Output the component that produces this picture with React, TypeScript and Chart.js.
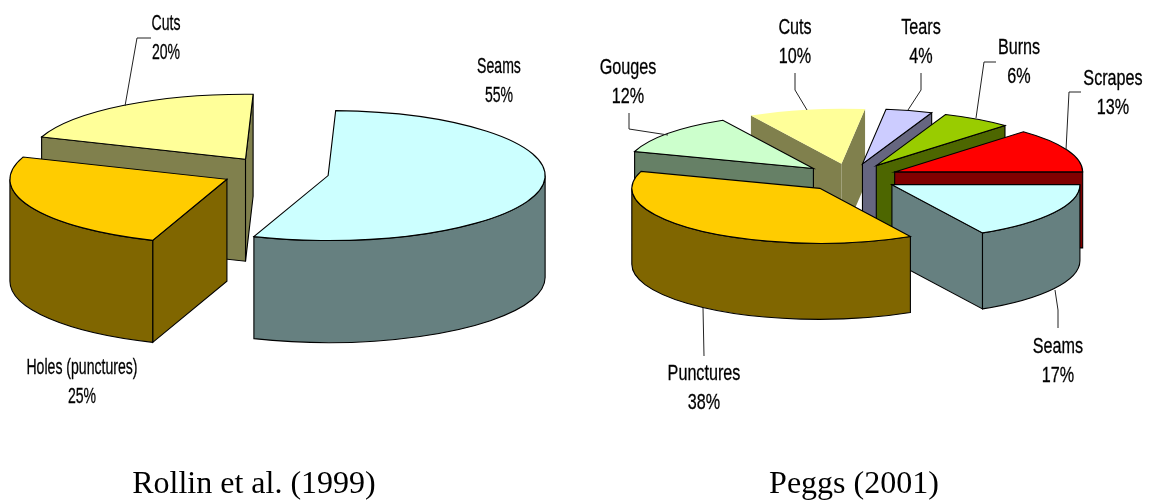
import React, { useEffect, useRef } from "react";
import { Chart, registerables } from "chart.js";

Chart.register(...registerables);

// ---- Rollin et al. (1999)
const leftCategories = ["Seams", "Holes (punctures)", "Cuts"];
const leftValues = [55, 25, 20];
const leftTopColors = ["#CCFFFF", "#FFCC00", "#FFFF99"];
const leftSideColors = ["#668080", "#806600", "#80804D"];
const leftBorders = ["#000", "#000", "#000"];
const leftPaintOrder = [0, 2, 1];
const leftCaption = "Rollin et al. (1999)";

// ---- Peggs (2001)
const rightCategories = ["Seams", "Punctures", "Gouges", "Cuts", "Tears", "Burns", "Scrapes"];
const rightValues = [17, 38, 12, 10, 4, 6, 13];
const rightTopColors = ["#CCFFFF", "#FFCC00", "#CCFFCC", "#FFFF99", "#CCCCFF", "#99CC00", "#FF0000"];
const rightSideColors = ["#668080", "#806600", "#668066", "#80804D", "#666680", "#4D6600", "#800000"];
const rightBorders = ["#000", "#000", "#000", "transparent", "#000", "#000", "#000"];
const rightPaintOrder = [3, 4, 5, 6, 0, 2, 1];
const rightCaption = "Peggs (2001)";

type LabelSpot = { x: number; y: number; leader?: number[][] };

const leftLabelSpots: LabelSpot[] = [
  { x: 499, y: 67 },
  { x: 82, y: 368 },
  { x: 166, y: 24, leader: [[125, 106], [137, 38], [151, 38]] },
];
const rightLabelSpots: LabelSpot[] = [
  { x: 484, y: 347, leader: [[481, 290], [484, 310], [484, 328]] },
  { x: 130, y: 374, leader: [[129, 308], [130, 356]] },
  { x: 54, y: 68, leader: [[55, 113], [55, 129], [94, 135]] },
  { x: 221, y: 28, leader: [[221, 73], [221, 90], [233, 110]] },
  { x: 347, y: 28, leader: [[347, 73], [347, 90], [334, 110]] },
  { x: 445, y: 48, leader: [[422, 62], [410, 62], [402, 118]] },
  { x: 539, y: 79, leader: [[507, 92], [495, 92], [492, 150]] },
];

const pie3d = {
  id: "pie3d",
  beforeDatasetsDraw(chart: any, _args: any, o: any) {
    const ctx = chart.ctx;
    const meta = chart.getDatasetMeta(0);
    for (const idx of o.order) {
      const arc = meta.data[idx];
      const { x, y, startAngle: a0, endAngle: a1, outerRadius: R } = arc;
      const half = (a0 + a1) / 2;
      const ax = x + Math.cos(half) * o.explode * o.sx;
      const ay = y + Math.sin(half) * o.explode * o.sy;
      const rx = R * o.sx;
      const ry = R * o.sy;
      const d = o.depth;
      const stroke = arc.options.borderColor;
      const side = o.sides[idx];
      const paint = () => {
        ctx.fillStyle = side;
        ctx.fill();
        if (stroke !== "transparent") {
          ctx.strokeStyle = stroke;
          ctx.lineWidth = o.line;
          ctx.stroke();
        }
      };
      const radial = (a: number) => {
        const px = ax + rx * Math.cos(a);
        const py = ay + ry * Math.sin(a);
        ctx.beginPath();
        ctx.moveTo(ax, ay);
        ctx.lineTo(px, py);
        ctx.lineTo(px, py + d);
        ctx.lineTo(ax, ay + d);
        ctx.closePath();
        paint();
      };
      if (-Math.cos(a0) > 0) radial(a0);
      if (Math.cos(a1) > 0) radial(a1);
      // outer curved wall: the part of the rim that faces the viewer
      for (let k = -1; k <= 1; k++) {
        const s = Math.max(a0, 2 * Math.PI * k);
        const e = Math.min(a1, Math.PI + 2 * Math.PI * k);
        if (e > s) {
          ctx.beginPath();
          ctx.ellipse(ax, ay, rx, ry, 0, s, e);
          ctx.ellipse(ax, ay + d, rx, ry, 0, e, s, true);
          ctx.closePath();
          paint();
        }
      }
      // the library's own arc is the top face
      ctx.save();
      ctx.translate(ax, ay);
      ctx.scale(o.sx, o.sy);
      ctx.translate(-x, -y);
      arc.draw(ctx);
      ctx.restore();
      if (stroke !== "transparent") {
        ctx.beginPath();
        ctx.moveTo(ax, ay);
        ctx.ellipse(ax, ay, rx, ry, 0, a0, a1);
        ctx.closePath();
        ctx.strokeStyle = stroke;
        ctx.lineWidth = o.line;
        ctx.stroke();
      }
    }
    return false;
  },
  afterDraw(chart: any, _args: any, o: any) {
    const ctx = chart.ctx;
    const labels = chart.data.labels;
    const values = chart.data.datasets[0].data;
    o.spots.forEach((spot: LabelSpot, i: number) => {
      if (spot.leader) {
        ctx.beginPath();
        spot.leader.forEach((p: number[], j: number) => (j ? ctx.lineTo(p[0], p[1]) : ctx.moveTo(p[0], p[1])));
        ctx.strokeStyle = "#222";
        ctx.lineWidth = 1;
        ctx.stroke();
      }
      ctx.save();
      ctx.translate(spot.x, spot.y);
      ctx.scale(o.squeeze, 1);
      ctx.font = `${o.font}px "Liberation Sans"`;
      ctx.fillStyle = "#000";
      ctx.strokeStyle = "#000";
      ctx.lineWidth = 0.3;
      ctx.textAlign = "center";
      ctx.textBaseline = "middle";
      ctx.fillText(labels[i], 0, 0);
      ctx.strokeText(labels[i], 0, 0);
      ctx.fillText(`${values[i]}%`, 0, o.gap);
      ctx.strokeText(`${values[i]}%`, 0, o.gap);
      ctx.restore();
    });
    ctx.save();
    ctx.font = `32px "Liberation Serif"`;
    ctx.fillStyle = "#000";
    ctx.textAlign = "center";
    ctx.textBaseline = "alphabetic";
    ctx.fillText(o.caption, o.captionX, o.captionY);
    ctx.restore();
  },
};

function usePie(
  ref: React.RefObject<HTMLCanvasElement | null>,
  cfg: {
    labels: string[]; values: number[]; tops: string[]; sides: string[]; borders: string[];
    order: number[]; spots: LabelSpot[]; caption: string; captionX: number; rotation: number; padding: any;
    sx: number; sy: number; explode: number; depth: number; font: number; gap: number; squeeze: number;
  }
) {
  useEffect(() => {
    const chart = new Chart(ref.current as HTMLCanvasElement, {
      type: "pie",
      plugins: [pie3d],
      data: {
        labels: cfg.labels,
        datasets: [{
          data: cfg.values,
          backgroundColor: cfg.tops,
          borderColor: cfg.borders,
          borderWidth: 0,
        }],
      },
      options: {
        responsive: false,
        animation: false,
        rotation: cfg.rotation,
        radius: 100,
        layout: { padding: cfg.padding },
        plugins: {
          legend: { display: false },
          tooltip: { enabled: false },
          title: { display: false },
          pie3d: {
            sx: cfg.sx, sy: cfg.sy, explode: cfg.explode, depth: cfg.depth, line: 1.1,
            order: cfg.order, sides: cfg.sides, spots: cfg.spots, font: cfg.font, gap: cfg.gap, squeeze: cfg.squeeze,
            caption: cfg.caption, captionX: cfg.captionX, captionY: 493,
          },
        },
      } as any,
    });
    return () => chart.destroy();
  }, []);
}

export default function App() {
  const leftRef = useRef<HTMLCanvasElement>(null);
  const rightRef = useRef<HTMLCanvasElement>(null);
  usePie(leftRef, {
    labels: leftCategories, values: leftValues, tops: leftTopColors, sides: leftSideColors, borders: leftBorders,
    order: leftPaintOrder, spots: leftLabelSpots, caption: leftCaption, captionX: 254, rotation: 2,
    padding: { left: 0, right: 23, top: 0, bottom: 155 },
    sx: 2.17, sy: 0.65, explode: 24.7, depth: 102, font: 22, gap: 29, squeeze: 0.64,
  });
  usePie(rightRef, {
    labels: rightCategories, values: rightValues, tops: rightTopColors, sides: rightSideColors, borders: rightBorders,
    order: rightPaintOrder, spots: rightLabelSpots, caption: rightCaption, captionX: 280, rotation: 90,
    padding: { left: 0, right: 22, top: 0, bottom: 145 },
    sx: 1.88, sy: 0.55, explode: 25.6, depth: 76, font: 22, gap: 29, squeeze: 0.735,
  });
  return (
    <div style={{ position: "absolute", left: 0, top: 0, width: 1149, height: 500, background: "#fff", overflow: "hidden" }}>
      <canvas ref={leftRef} width={574} height={500} style={{ position: "absolute", left: 0, top: 0 }} />
      <canvas ref={rightRef} width={575} height={500} style={{ position: "absolute", left: 574, top: 0 }} />
    </div>
  );
}
